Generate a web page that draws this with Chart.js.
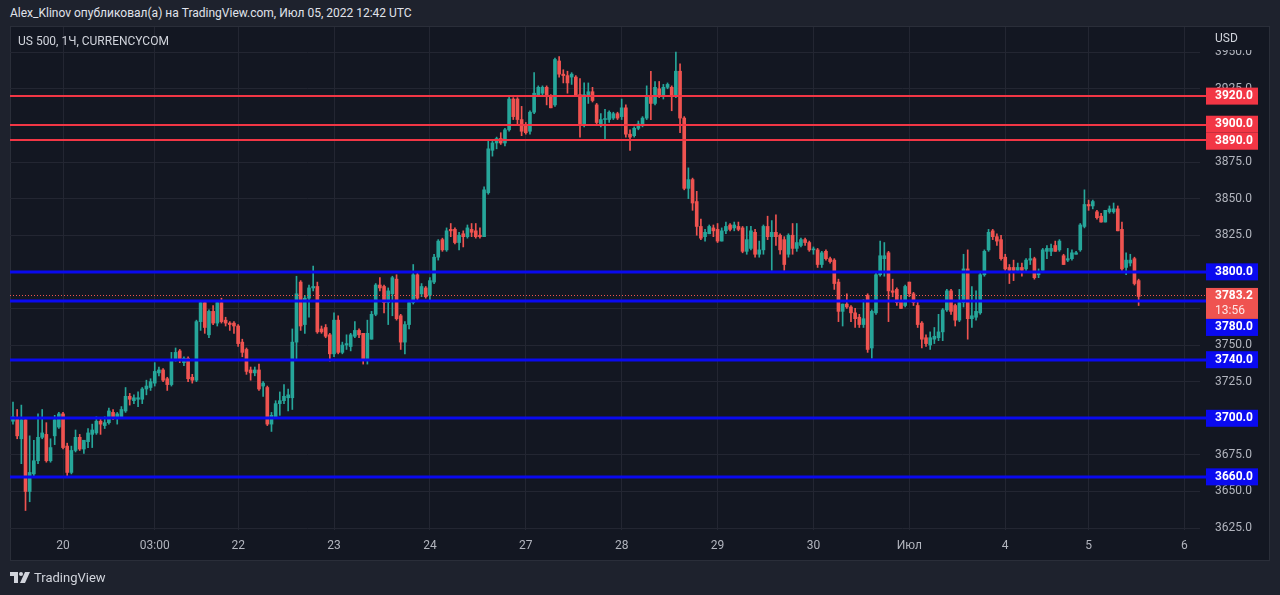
<!DOCTYPE html>
<html><head><meta charset="utf-8">
<script src="https://cdn.jsdelivr.net/npm/chart.js@4"></script>
<style>
html,body{margin:0;padding:0;background:#1e222d;width:1280px;height:595px;overflow:hidden;font-family:Roboto,"Noto Sans",sans-serif;}
#hdr{position:absolute;left:10px;top:6px;color:#e0e3eb;font-size:12px;white-space:nowrap;}
#pane{position:absolute;left:10px;top:26px;width:1260px;height:535px;background:#131722;border:1px solid #2a2e39;box-sizing:border-box;}
#c{position:absolute;left:0;top:0;}
#legend{position:absolute;left:18px;top:34px;color:#d1d4dc;font-size:12px;white-space:nowrap;}
#footer{position:absolute;left:10px;top:570px;color:#d1d4dc;font-size:13px;display:flex;align-items:center;}
#footer svg{margin-right:4px}
</style></head>
<body>
<div id="hdr">Alex_Klinov опубликовал(а) на TradingView.com, Июл 05, 2022 12:42 UTC</div>
<div id="pane"></div>
<canvas id="c" width="1280" height="595"></canvas>
<div id="legend">US 500, 1Ч, CURRENCYCOM</div>
<div id="footer"><svg width="20" height="12" viewBox="0 0 20 12"><path d="M0 0h8v11h-4v-7h-4z" fill="#d1d4dc"/><circle cx="11" cy="2" r="2" fill="#d1d4dc"/><path d="M15 0h5l-5 11h-5z" fill="#d1d4dc"/></svg><span>TradingView</span></div>
<script>
// ---- data ----
const dayTickIdx = [12,34,54,77,100,123,146,169,192,215,238,258,281];
const dayTickLabels = ['20','03:00','22','23','24','27','28','29','30','Июл','4','5','6'];
const priceTicks = [3625,3650,3675,3700,3725,3750,3775,3800,3825,3850,3875,3900,3925,3950];
const redLevels = [3920,3900,3890];
const blueLevels = [3800,3780,3740,3700,3660];
const lastPrice = 3783.2;
const countdown = '13:56';

const opens = [3698,3700,3686,3699,3650,3662,3671,3687,3689,3671,
3688,3694,3703,3681,3663,3678,3687,3679,3684,3689,
3690,3698,3695,3697,3704,3701,3701,3705,3715,3712,
3713,3713,3720,3721,3724,3731,3733,3727,3723,3740,
3746,3738,3741,3728,3726,3766,3779,3757,3773,3765,
3779,3767,3765,3765,3763,3752,3747,3733,3731,3733,
3722,3721,3696,3701,3710,3712,3714,3714,3752,3793,
3764,3782,3789,3790,3761,3762,3757,3744,3767,3745,
3750,3749,3756,3760,3758,3740,3754,3771,3791,3790,
3779,3785,3795,3770,3752,3764,3779,3798,3785,3789,
3784,3793,3810,3822,3815,3829,3829,3820,3826,3824,
3829,3828,3825,3824,3854,3883,3888,3891,3888,3897,
3918,3918,3904,3900,3896,3909,3921,3922,3926,3920,
3914,3944,3935,3934,3933,3933,3921,3900,3921,3923,
3914,3900,3904,3904,3905,3908,3906,3912,3894,3893,
3898,3901,3905,3920,3915,3925,3920,3926,3926,3921,
3937,3905,3857,3863,3848,3831,3824,3826,3830,3829,
3821,3828,3832,3830,3831,3830,3814,3816,3827,3812,
3815,3831,3824,3827,3825,3822,3812,3825,3816,3818,
3822,3820,3815,3815,3805,3814,3809,3808,3793,3773,
3778,3776,3772,3769,3764,3784,3748,3772,3798,3809,
3813,3787,3788,3780,3777,3793,3785,3777,3765,3755,
3750,3754,3755,3759,3774,3787,3777,3767,3779,3802,
3768,3769,3772,3798,3815,3828,3824,3822,3810,3803,
3803,3801,3803,3802,3808,3809,3798,3801,3814,3814,
3818,3815,3811,3808,3809,3812,3815,3831,3846,3845,
3841,3838,3834,3841,3841,3843,3829,3803,3806,3809,
3794];
const highs = [3711,3706,3709,3700,3688,3685,3703,3706,3697,3686,
3702,3704,3704,3683,3681,3692,3689,3685,3693,3696,
3701,3700,3701,3707,3706,3704,3708,3721,3717,3716,
3718,3721,3726,3727,3738,3735,3734,3728,3745,3748,
3747,3742,3742,3730,3767,3780,3780,3774,3777,3780,
3782,3769,3766,3766,3764,3754,3748,3735,3735,3737,
3725,3722,3704,3712,3718,3723,3720,3761,3797,3794,
3784,3791,3804,3793,3763,3764,3758,3772,3770,3752,
3757,3758,3766,3761,3758,3767,3773,3792,3796,3791,
3789,3797,3798,3771,3766,3780,3805,3799,3792,3790,
3796,3812,3822,3823,3830,3833,3830,3827,3828,3832,
3833,3833,3830,3858,3890,3890,3892,3895,3898,3920,
3919,3919,3913,3902,3910,3936,3927,3927,3927,3921,
3946,3947,3938,3937,3936,3934,3932,3929,3929,3926,
3915,3908,3911,3910,3909,3909,3918,3914,3897,3899,
3903,3906,3927,3937,3930,3930,3928,3929,3927,3950,
3942,3906,3871,3864,3855,3836,3829,3832,3832,3833,
3830,3834,3833,3834,3834,3831,3831,3831,3829,3821,
3832,3838,3835,3839,3826,3824,3826,3833,3833,3823,
3823,3821,3817,3816,3814,3815,3810,3809,3795,3778,
3785,3777,3775,3771,3781,3785,3774,3799,3821,3820,
3814,3795,3789,3784,3791,3793,3786,3780,3766,3757,
3759,3762,3771,3775,3788,3788,3778,3788,3812,3815,
3790,3787,3799,3815,3829,3829,3826,3825,3812,3805,
3808,3806,3806,3809,3816,3810,3802,3816,3818,3819,
3821,3822,3812,3816,3815,3814,3833,3856,3849,3849,
3842,3840,3842,3845,3847,3845,3834,3813,3812,3810,
3795];
const lows = [3696,3686,3669,3637,3643,3660,3669,3686,3670,3670,
3682,3693,3679,3660,3662,3677,3678,3676,3680,3680,
3689,3689,3693,3696,3699,3696,3700,3704,3709,3710,
3708,3710,3716,3719,3722,3729,3725,3719,3722,3739,
3738,3736,3725,3724,3725,3760,3758,3755,3764,3763,
3765,3763,3760,3758,3749,3742,3730,3726,3729,3719,
3715,3695,3691,3701,3702,3710,3705,3706,3740,3760,
3758,3769,3787,3758,3758,3755,3739,3742,3744,3744,
3747,3746,3755,3755,3737,3737,3754,3770,3787,3772,
3764,3770,3767,3747,3744,3761,3778,3781,3783,3782,
3781,3792,3808,3814,3814,3824,3819,3815,3817,3823,
3824,3823,3823,3824,3853,3879,3884,3887,3886,3896,
3904,3901,3893,3894,3894,3908,3920,3920,3914,3912,
3913,3933,3929,3922,3928,3920,3892,3899,3915,3916,
3900,3899,3890,3902,3904,3904,3904,3892,3883,3892,
3897,3899,3904,3904,3914,3919,3918,3925,3910,3919,
3895,3856,3850,3842,3825,3822,3821,3826,3824,3820,
3821,3826,3828,3828,3828,3813,3812,3815,3810,3810,
3812,3822,3801,3818,3812,3801,3810,3812,3814,3817,
3818,3814,3812,3803,3803,3808,3806,3788,3766,3763,
3775,3766,3762,3762,3762,3745,3741,3771,3797,3797,
3766,3783,3777,3775,3776,3783,3777,3762,3748,3749,
3747,3751,3753,3753,3773,3771,3763,3766,3776,3754,
3762,3767,3771,3797,3814,3822,3818,3808,3801,3792,
3794,3800,3797,3800,3805,3795,3796,3800,3809,3811,
3814,3814,3805,3807,3808,3812,3814,3830,3842,3843,
3836,3834,3834,3840,3840,3828,3801,3798,3804,3791,
3777];
const closes = [3701,3688,3699,3650,3663,3671,3687,3690,3671,3680,
3699,3703,3680,3663,3678,3687,3679,3685,3690,3692,
3698,3696,3697,3705,3701,3703,3706,3715,3713,3714,
3714,3720,3722,3725,3732,3733,3726,3723,3740,3745,
3740,3741,3727,3726,3766,3779,3762,3773,3765,3779,
3766,3765,3764,3763,3751,3745,3732,3731,3733,3720,
3724,3696,3702,3710,3712,3715,3716,3752,3785,3763,
3782,3789,3790,3759,3759,3756,3744,3767,3745,3750,
3751,3757,3760,3757,3740,3758,3771,3791,3789,3779,
3787,3796,3768,3752,3764,3779,3798,3782,3790,3783,
3794,3810,3821,3815,3828,3828,3820,3825,3824,3830,
3827,3824,3824,3856,3884,3888,3891,3888,3897,3918,
3906,3904,3896,3895,3909,3922,3926,3926,3920,3912,
3945,3935,3934,3929,3935,3921,3900,3921,3923,3917,
3902,3904,3904,3909,3908,3905,3912,3894,3892,3898,
3901,3905,3920,3915,3926,3920,3926,3928,3921,3937,
3905,3857,3863,3847,3831,3823,3827,3831,3828,3821,
3828,3831,3829,3832,3829,3814,3822,3828,3812,3815,
3831,3824,3827,3824,3815,3805,3825,3816,3820,3822,
3820,3815,3815,3805,3813,3809,3807,3792,3773,3778,
3776,3772,3768,3764,3768,3747,3773,3798,3811,3811,
3787,3786,3779,3775,3790,3785,3779,3764,3754,3751,
3755,3756,3759,3774,3787,3773,3767,3779,3802,3768,
3770,3773,3798,3814,3827,3824,3821,3809,3802,3801,
3801,3803,3801,3808,3809,3796,3799,3815,3816,3816,
3814,3821,3805,3809,3813,3813,3832,3846,3845,3848,
3837,3834,3842,3843,3843,3828,3802,3808,3808,3792,
3783.2];

// ---- styles ----
const UP = '#26a69a', DOWN = '#ef5350';
const RED_LINE = '#f23645', BLUE_LINE = '#0a0af0', LAST_COL = '#ef5350';
const TXT = '#b2b5be', GRID = '#232632';

const colors = opens.map((o,i) => closes[i] >= o ? UP : DOWN);
const wickData = opens.map((o,i) => ({x:i, y:[lows[i], highs[i]]}));
const bodyData = opens.map((o,i) => ({x:i, y:[o, closes[i]]}));

const levelPlugin = {
  id: 'levels',
  afterDatasetsDraw(chart) {
    const ctx = chart.ctx, ca = chart.chartArea, ys = chart.scales.y;
    ctx.save();
    ctx.beginPath(); ctx.rect(ca.left, ca.top, ca.right - ca.left + 6, ca.bottom - ca.top); ctx.clip();
    redLevels.forEach(v => {
      const y = Math.round(ys.getPixelForValue(v));
      ctx.fillStyle = RED_LINE; ctx.fillRect(ca.left, y - 1, ca.right - ca.left + 6, 2);
    });
    blueLevels.forEach(v => {
      const y = Math.round(ys.getPixelForValue(v));
      ctx.fillStyle = BLUE_LINE; ctx.fillRect(ca.left, y - 1.5, ca.right - ca.left + 6, 3);
    });
    const ly = Math.round(ys.getPixelForValue(lastPrice)) - 0.5;
    ctx.strokeStyle = LAST_COL; ctx.lineWidth = 1; ctx.setLineDash([1,2]);
    ctx.beginPath(); ctx.moveTo(ca.left, ly); ctx.lineTo(ca.right + 6, ly); ctx.stroke();
    ctx.restore();
  },
  afterDraw(chart) {
    const ctx = chart.ctx, ca = chart.chartArea, ys = chart.scales.y;
    const bx = ca.right + 6, bw = 52, bh = 17, tx = ca.right + 15;
    ctx.save();
    // USD header over price axis (hides upper part of the top tick label)
    ctx.fillStyle = '#131722'; ctx.fillRect(ca.right + 1, 27, 68, 23);
    ctx.fillStyle = '#d1d4dc'; ctx.font = '12px Roboto'; ctx.textBaseline = 'middle'; ctx.textAlign = 'left';
    ctx.fillText('USD', tx, 39);
    // label boxes
    const labels = [];
    redLevels.forEach(v => labels.push({v, col: RED_LINE, h: bh, c: ys.getPixelForValue(v)}));
    blueLevels.forEach(v => labels.push({v, col: BLUE_LINE, h: bh, c: ys.getPixelForValue(v)}));
    const lastY = ys.getPixelForValue(lastPrice);
    labels.push({v: lastPrice, col: LAST_COL, h: 31, c: lastY, fixed: true, top: lastY - 8.5});
    labels.forEach(l => { if (!l.fixed) l.top = l.c - l.h / 2; });
    labels.sort((a,b) => a.top - b.top);
    for (let i = 1; i < labels.length; i++) {
      const p = labels[i-1], l = labels[i];
      const ov = p.top + p.h - l.top;
      if (ov > 0) {
        if (p.fixed) { l.top += ov; }
        else { p.top -= ov / 2; l.top += ov / 2; }
      }
    }
    labels.forEach(l => {
      ctx.fillStyle = l.col;
      ctx.fillRect(bx, l.top, bw, l.h);
      ctx.fillStyle = '#ffffff'; ctx.font = 'bold 12px Roboto';
      if (l.fixed) {
        ctx.fillText(l.v.toFixed(1), tx, l.top + 8.5);
        ctx.font = '12px Roboto'; ctx.fillStyle = 'rgba(255,255,255,0.85)';
        ctx.fillText(countdown, tx, l.top + 23.5);
      } else {
        ctx.fillText(l.v.toFixed(1), tx, l.top + l.h / 2);
      }
    });
    ctx.restore();
  }
};

new Chart(document.getElementById('c'), {
  type: 'bar',
  data: {
    datasets: [
      {data: wickData, backgroundColor: colors, barThickness: 1, grouped: false, order: 2},
      {data: bodyData, backgroundColor: colors, barThickness: 3, grouped: false, minBarLength: 1, order: 1}
    ]
  },
  options: {
    responsive: false, animation: false, maintainAspectRatio: false,
    layout: {padding: {left: 10, top: 27, right: 10, bottom: 35}},
    plugins: {legend: {display: false}, tooltip: {enabled: false}},
    scales: {
      x: {
        type: 'linear', min: -0.72, max: 284.72, offset: false,
        grid: {color: GRID, offset: false, drawTicks: false},
        border: {display: false},
        ticks: {color: TXT, font: {size: 12, family: 'Roboto'}, padding: 9, maxRotation: 0, autoSkip: false,
          callback: (v, i) => dayTickLabels[i]},
        afterBuildTicks: s => { s.ticks = dayTickIdx.map(v => ({value: v})); },
        afterFit: s => { s.height = 30; }
      },
      y: {
        position: 'right', min: 3623.7, max: 3967.2,
        grid: {color: GRID, drawTicks: false},
        border: {display: false},
        ticks: {color: TXT, font: {size: 12, family: 'Roboto'}, padding: 15,
          callback: v => Number(v).toFixed(1)},
        afterBuildTicks: s => { s.ticks = priceTicks.map(v => ({value: v})); },
        afterFit: s => { s.width = 70; }
      }
    }
  },
  plugins: [levelPlugin]
});
</script>
</body></html>
